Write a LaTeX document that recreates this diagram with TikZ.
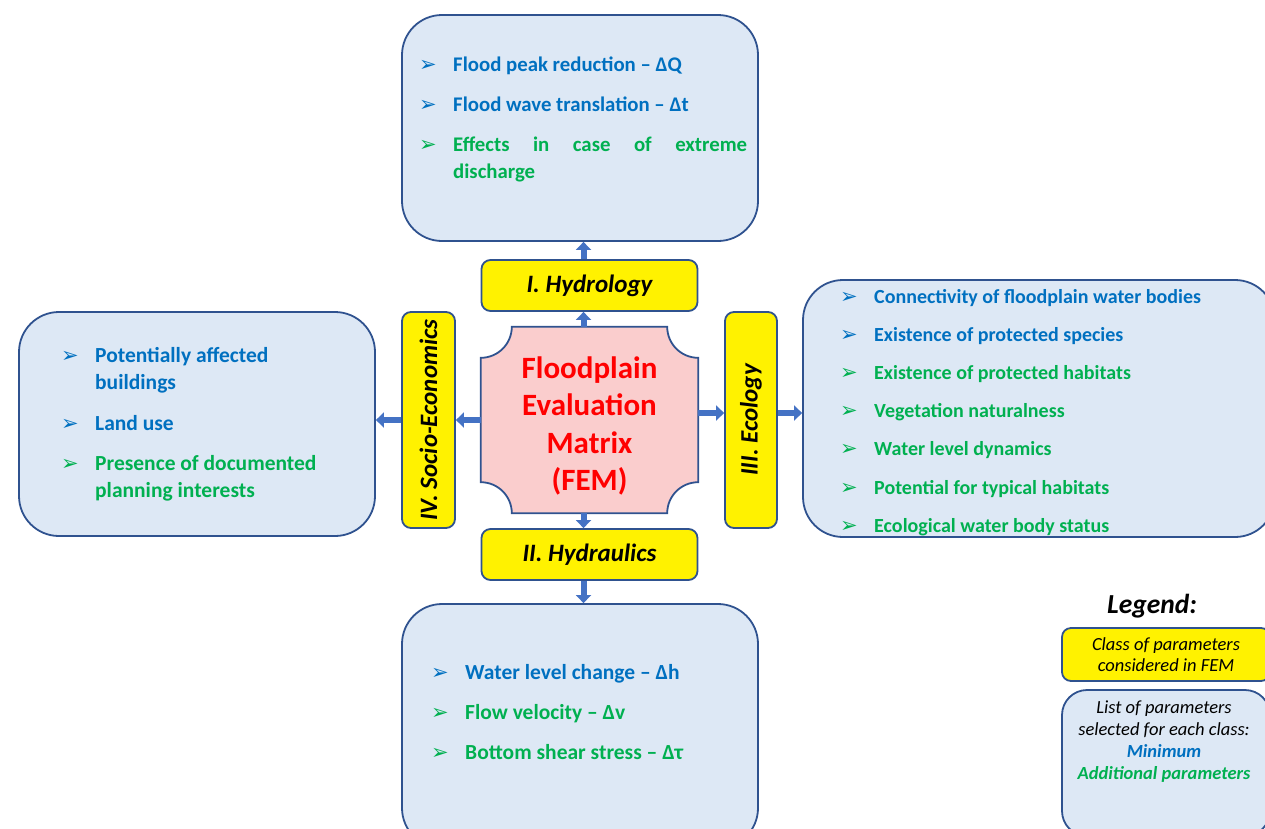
\documentclass[tikz,border=0pt]{standalone}
\usepackage{fontspec}
\setmainfont{Carlito}
\newfontfamily\dingfont{DejaVu Sans}
\usetikzlibrary{arrows.meta,calc,backgrounds}
\definecolor{boxblue}{RGB}{221,232,245}
\definecolor{edgeblue}{RGB}{47,82,143}
\definecolor{arrblue}{RGB}{68,114,196}
\definecolor{txtblue}{RGB}{0,112,192}
\definecolor{txtgreen}{RGB}{0,176,80}
\definecolor{plaque}{RGB}{250,205,205}
\newcommand\twoline[1]{\begin{tabular}[t]{@{}l@{}}#1\end{tabular}}
\begin{document}
\begin{tikzpicture}[x=1pt,y=-1pt,
		listbox/.style={draw=edgeblue,line width=1.8pt,fill=boxblue,rounded corners=40pt},
		classbox/.style={draw=edgeblue,line width=1.8pt,fill=yellow,rounded corners=9pt,font=\fontsize{25}{29}\selectfont\bfseries\itshape},
		link/.style={draw=arrblue,line width=6pt,-{Triangle[width=15pt,length=8pt]}},
		item/.style={anchor=base west,inner sep=0pt,font=\fontsize{#1}{27.5}\selectfont\bfseries},
		item/.default=20,
		tip/.style={anchor=base west,inner sep=0pt,font=\dingfont\fontsize{21}{21}\selectfont}]
		\def\r{31}
		\useasboundingbox (0,0) rectangle (1265,828);
		\node[listbox,minimum width=356,minimum height=226] (hydlist) at (580,128) {};
		\node[listbox,minimum width=356,minimum height=244] (hyrlist) at (580,726) {};
		\node[listbox,minimum width=356,minimum height=224] (soclist) at (197,424) {};
		\node[listbox,minimum width=472,minimum height=257] (ecolist) at (1039,408.5) {};
		\node[classbox,minimum width=216,minimum height=51] (hyd) at (589.5,285.5) {I. Hydrology};
		\node[classbox,minimum width=216,minimum height=51] (hyr) at (589.5,554.5) {II. Hydraulics};
		\node[classbox,rotate=90,minimum width=216,minimum height=52] (eco) at (751,420) {III. Ecology};
		\node[classbox,rotate=90,minimum width=216,minimum height=53] (soc) at (428.5,420) {IV. Socio-Economics};
		\node[minimum width=217,minimum height=186,align=center,text=red,font=\fontsize{31}{37.5}\selectfont\bfseries] (fem) at (589.5,420) {\rule{0pt}{34pt}Floodplain\\Evaluation\\Matrix\\(FEM)};
		\begin{pgfonlayer}{background}
		\draw[edgeblue,line width=1.8pt,fill=plaque] ($(fem.north west)+(\r,0)$) -- ($(fem.north east)+(-\r,0)$) arc[start angle=180,end angle=90,radius=\r]
		-- ($(fem.south east)+(0,-\r)$) arc[start angle=270,end angle=180,radius=\r]
		-- ($(fem.south west)+(\r,0)$) arc[start angle=0,end angle=-90,radius=\r]
		-- ($(fem.north west)+(0,\r)$) arc[start angle=90,end angle=0,radius=\r] -- cycle;
		\end{pgfonlayer}
		\draw[link] ([xshift=-6pt]fem.north) -- ([xshift=-6pt]hyd.south);
		\draw[link] ([xshift=-6pt]hyd.north) -- ([xshift=3.5pt]hydlist.south);
		\draw[link] ([xshift=-6pt]fem.south) -- ([xshift=-6pt]hyr.north);
		\draw[link] ([xshift=-6pt]hyr.south) -- ([xshift=3.5pt]hyrlist.north);
		\draw[link] (fem.west) -- (soc.south);
		\draw[link] (soc.north) -- ([yshift=4pt]soclist.east);
		\draw[link] ([yshift=7pt]fem.east) -- ([yshift=7pt]eco.north);
		\draw[link] ([yshift=7pt]eco.south) -- ([yshift=-4.5pt]ecolist.west);
		\foreach \y/\c/\s [count=\i] in {71/txtblue/{Flood peak reduction -- ΔQ},111/txtblue/{Flood wave translation -- Δt},151/txtgreen/{\twoline{\makebox[294pt][s]{Effects in case of extreme}\\discharge}}}{
			\node[tip,text=\c] (hb\i) at (419,\y) {➢};
			\node[item=20.8,text=\c] (ht\i) at (453,\y) {\s};}
		\foreach \y/\c/\s [count=\i] in {679/txtblue/{Water level change -- Δh},719/txtgreen/{Flow velocity -- Δv},759/txtgreen/{Bottom shear stress -- Δτ}}{
			\node[tip,text=\c] (rb\i) at (431,\y) {➢};
			\node[item=21.5,text=\c] (rt\i) at (465,\y) {\s};}
		\foreach \y/\c/\s [count=\i] in {362/txtblue/{\twoline{Potentially affected\\buildings}},430/txtblue/{Land use},470/txtgreen/{\twoline{Presence of documented\\planning interests}}}{
			\node[tip,text=\c] (sb\i) at (61,\y) {➢};
			\node[item=21.5,text=\c] (st\i) at (95,\y) {\s};}
		\foreach \y/\c/\s [count=\i] in {303/txtblue/{Connectivity of floodplain water bodies},341/txtblue/{Existence of protected species},379/txtgreen/{Existence of protected habitats},417/txtgreen/{Vegetation naturalness},455/txtgreen/{Water level dynamics},494/txtgreen/{Potential for typical habitats},532/txtgreen/{Ecological water body status}}{
			\node[tip,text=\c] (eb\i) at (840,\y) {➢};
			\node[item,text=\c] (et\i) at (874,\y) {\s};}
		\node[font=\fontsize{27.5}{32}\selectfont\bfseries\itshape] (legtitle) at (1152,606) {Legend:};
		\node[classbox,minimum width=208,minimum height=53,align=center,font=\fontsize{18.5}{21.5}\selectfont\itshape] (legclass) at (1166,654.5) {Class of parameters\\considered in FEM};
		\node[listbox,rounded corners=25pt,minimum width=208,minimum height=146] (leglist) at (1166,763) {};
		\node[align=center,font=\fontsize{18.5}{21.8}\selectfont\itshape] (legtext) at (1164,741.5) {List of parameters\\selected for each class:\\{\bfseries\color{txtblue}Minimum}\\{\bfseries\color{txtgreen}Additional parameters}};
	\end{tikzpicture}
\end{document}
